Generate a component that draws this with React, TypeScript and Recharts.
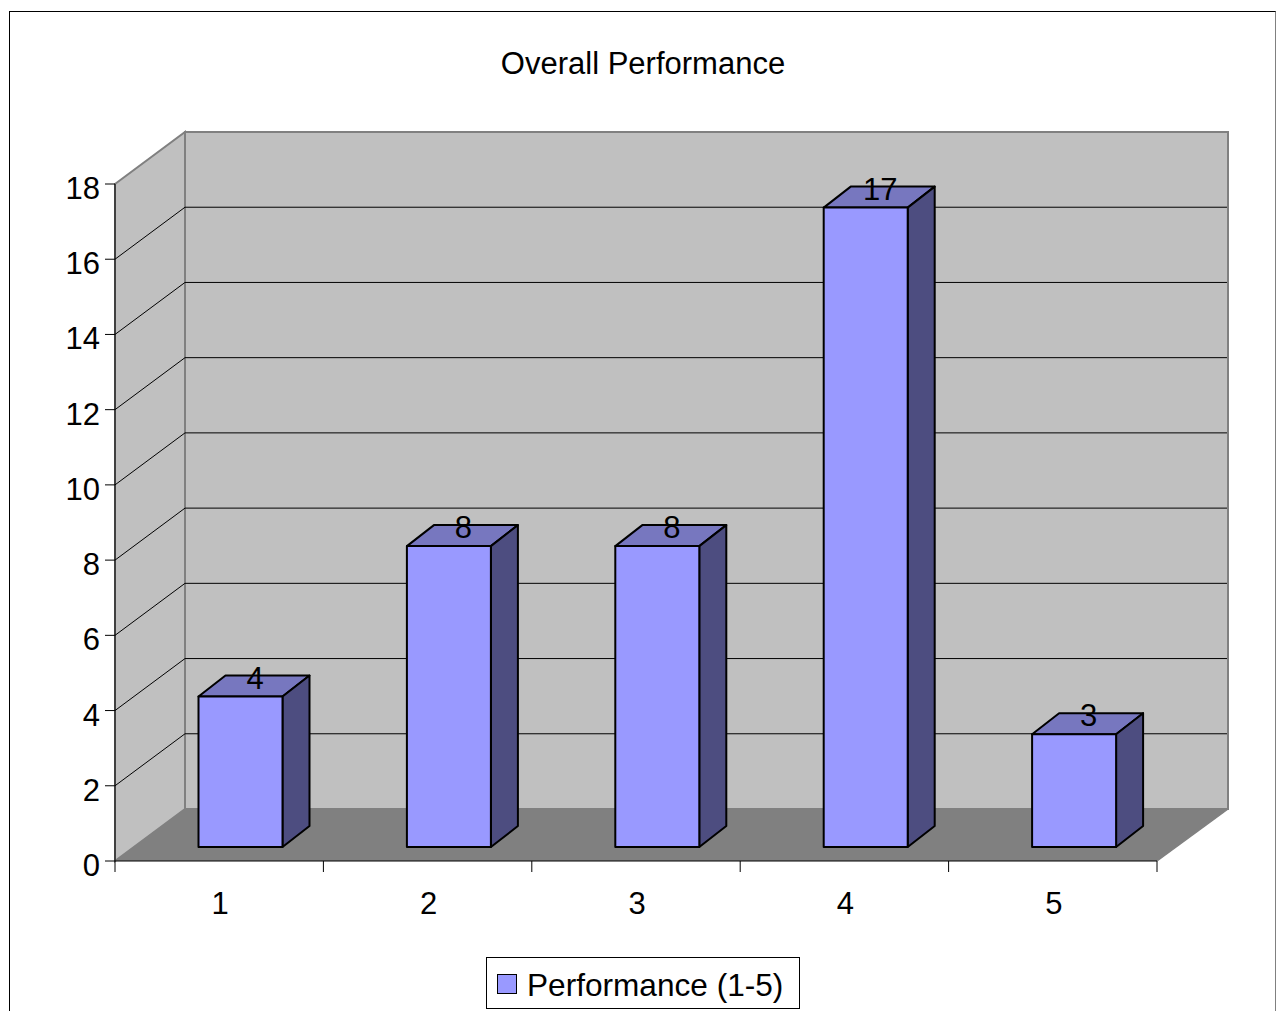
import React from 'react'
import { BarChart, Bar, XAxis, YAxis, ReferenceArea, ReferenceLine, LabelList, Legend } from 'recharts'

const categories = ['1', '2', '3', '4', '5']
const performance = [4, 8, 8, 17, 3]
const yTicks = [0, 2, 4, 6, 8, 10, 12, 14, 16, 18]
const gridValues = [2, 4, 6, 8, 10, 12, 14, 16]

const chartData = categories.map((name, i) => ({ name, performance: performance[i] }))

const FONT = '"Liberation Sans", Arial, sans-serif'
const FONT_SIZE = 31

const PLOT_WIDTH = 1042
const BAND = PLOT_WIDTH / categories.length

// depth of the floor and side wall
const DEPTH_X = 70
const DEPTH_Y = 52
// how far the column fronts sit behind the front edge of the floor
const BAR_SHIFT_X = 21.5
const BAR_SHIFT_Y = 14
// depth of the column itself
const BAR_DEPTH_X = 27
const BAR_DEPTH_Y = 21

const WALL = '#C0C0C0'
const FLOOR = '#808080'
const EDGE = '#808080'
const BAR_FRONT = '#9999FF'
const BAR_TOP = '#7777BF'
const BAR_SIDE = '#4D4D80'

const Walls = ({ x, y, width, height }: any) => {
  const bottom = y + height
  const right = x + width
  return (
    <g>
      <polygon
        points={`${x},${y} ${x + DEPTH_X},${y - DEPTH_Y} ${x + DEPTH_X},${bottom - DEPTH_Y} ${x},${bottom}`}
        fill={WALL}
        stroke={EDGE}
        strokeWidth={2}
      />
      <rect x={x + DEPTH_X} y={y - DEPTH_Y} width={width + 1} height={height} fill={WALL} stroke={EDGE} strokeWidth={2} />
      <polygon
        points={`${x},${bottom} ${x + DEPTH_X},${bottom - DEPTH_Y} ${right + DEPTH_X + 1},${bottom - DEPTH_Y} ${right},${bottom}`}
        fill={FLOOR}
      />
      <line x1={right} y1={bottom} x2={right + DEPTH_X + 1} y2={bottom - DEPTH_Y} stroke={EDGE} strokeWidth={1.5} />
    </g>
  )
}

// each gridline runs across the side wall and then along the back wall
const GridLine = ({ x1, y1, x2 }: any) => (
  <polyline
    points={`${x1},${y1} ${x1 + DEPTH_X},${y1 - DEPTH_Y} ${x2 + DEPTH_X},${y1 - DEPTH_Y}`}
    fill="none"
    stroke="#000"
    strokeWidth={1}
  />
)

// tick marks sit on the category boundaries, labels on the centres
const CategoryTick = ({ x, y, payload, index }: any) => {
  const lineTop = y - 1
  return (
    <g>
      <line x1={x - BAND / 2} y1={lineTop} x2={x - BAND / 2} y2={lineTop + 11} stroke="#000" />
      {index === categories.length - 1 && (
        <line x1={x + BAND / 2} y1={lineTop} x2={x + BAND / 2} y2={lineTop + 11} stroke="#000" />
      )}
      <text x={x + 1} y={y + 52} textAnchor="middle" fontFamily={FONT} fontSize={FONT_SIZE} fill="#000">
        {payload.value}
      </text>
    </g>
  )
}

const Column = ({ x, y, width, height }: any) => {
  const left = x + BAR_SHIFT_X
  const top = y - BAR_SHIFT_Y
  const right = left + width
  const bottom = top + height
  return (
    <g stroke="#000" strokeWidth={2} strokeLinejoin="round">
      <polygon
        points={`${left},${top} ${left + BAR_DEPTH_X},${top - BAR_DEPTH_Y} ${right + BAR_DEPTH_X},${top - BAR_DEPTH_Y} ${right},${top}`}
        fill={BAR_TOP}
      />
      <polygon
        points={`${right},${top} ${right + BAR_DEPTH_X},${top - BAR_DEPTH_Y} ${right + BAR_DEPTH_X},${bottom - BAR_DEPTH_Y} ${right},${bottom}`}
        fill={BAR_SIDE}
      />
      <rect x={left} y={top} width={width} height={height} fill={BAR_FRONT} />
    </g>
  )
}

const ValueLabel = ({ x, y, width, value }: any) => (
  <text
    x={x + width / 2 + 36}
    y={y - 22}
    textAnchor="middle"
    fontFamily={FONT}
    fontSize={FONT_SIZE}
    fill="#000"
  >
    {value}
  </text>
)

const LegendBox = ({ payload }: any) => (
  <div
    style={{
      boxSizing: 'border-box',
      width: 314,
      height: 52,
      border: '1px solid #000',
      background: '#fff',
      display: 'flex',
      alignItems: 'center',
      paddingLeft: 10,
      fontFamily: FONT,
      fontSize: 31.6,
      color: '#000',
    }}
  >
    {payload?.map((item: any) => (
      <React.Fragment key={item.value}>
        <span
          style={{
            boxSizing: 'border-box',
            width: 20,
            height: 20,
            background: BAR_FRONT,
            border: '1px solid #000',
            marginRight: 10,
            position: 'relative',
            top: 1,
          }}
        />
        <span style={{ position: 'relative', top: 2 }}>{item.value}</span>
      </React.Fragment>
    ))}
  </div>
)

export default function App() {
  return (
    <div style={{ position: 'absolute', left: 0, top: 0, width: 1276, height: 1011, overflow: 'hidden', background: '#fff' }}>
      <div
        style={{
          position: 'absolute',
          left: 9,
          top: 11,
          width: 1265,
          height: 1000,
          border: '1px solid #000',
          borderRightColor: '#808080',
          borderBottom: 'none',
        }}
      />
      <div
        style={{
          position: 'absolute',
          left: 0,
          width: 1286,
          top: 46,
          textAlign: 'center',
          fontFamily: FONT,
          fontSize: FONT_SIZE,
          color: '#000',
          whiteSpace: 'nowrap',
        }}
      >
        Overall Performance
      </div>
      <BarChart
        width={1276}
        height={1011}
        data={chartData}
        margin={{ top: 184, right: 119, bottom: 48, left: 0 }}
        style={{ position: 'absolute', left: 0, top: 0 }}
      >
        <ReferenceArea y1={0} y2={18} shape={<Walls />} ifOverflow="visible" zIndex={50} />
        {gridValues.map(v => (
          <ReferenceLine key={v} y={v} shape={<GridLine />} ifOverflow="visible" zIndex={60} />
        ))}
        <XAxis
          dataKey="name"
          height={50}
          tickSize={0}
          tickMargin={1}
          axisLine={{ stroke: '#000' }}
          tickLine={false}
          tick={<CategoryTick />}
        />
        <YAxis
          domain={[0, 18]}
          ticks={yTicks}
          interval={0}
          width={115}
          tickSize={10}
          tickMargin={5}
          axisLine={{ stroke: '#000' }}
          tickLine={{ stroke: '#000' }}
          tick={{ fill: '#000', fontSize: FONT_SIZE, fontFamily: FONT, dy: 4 }}
        />
        <Legend
          content={<LegendBox />}
          wrapperStyle={{ position: 'absolute', left: 486, top: 957, width: 314, height: 52 }}
        />
        <Bar
          dataKey="performance"
          name="Performance (1-5)"
          barSize={84}
          fill={BAR_FRONT}
          shape={<Column />}
          isAnimationActive={false}
        >
          <LabelList dataKey="performance" content={<ValueLabel />} />
        </Bar>
      </BarChart>
    </div>
  )
}
